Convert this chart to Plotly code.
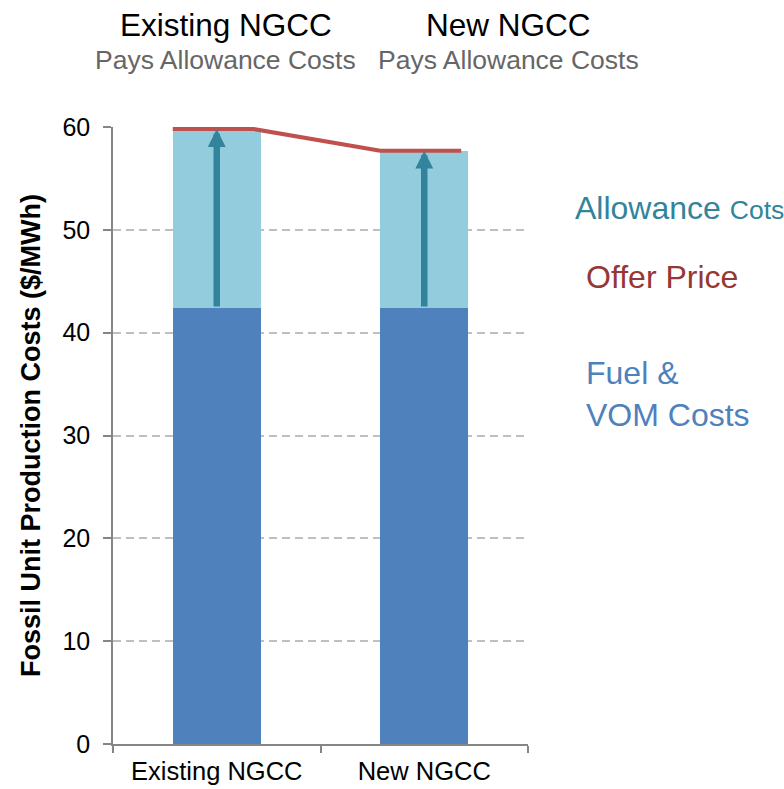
import plotly.graph_objects as go

# Data
categories = ["Existing NGCC", "New NGCC"]
fuel_vom_costs = [42.4, 42.4]
allowance_costs = [17.4, 15.3]
offer_price = [59.8, 57.7]
y_ticks = [0, 10, 20, 30, 40, 50, 60]

# Styling
FUEL_COLOR = "#4F81BD"
ALLOW_COLOR = "#93CDDD"
ARROW_COLOR = "#31849B"
OFFER_COLOR = "#C0504D"
OFFER_TEXT = "#953735"
AXIS_COLOR = "#868686"
FONT = "Liberation Sans, Arial, sans-serif"

BAR_GAP = 0.576
half_w = (1 - BAR_GAP) / 2

fig = go.Figure()

fig.add_trace(go.Bar(
    x=categories, y=fuel_vom_costs, name="Fuel & VOM Costs",
    marker=dict(color=FUEL_COLOR, line=dict(width=0)),
))
fig.add_trace(go.Bar(
    x=categories, y=allowance_costs, name="Allowance Costs",
    marker=dict(color=ALLOW_COLOR, line=dict(width=0)),
))

# Offer price step line across each bar, on a numeric overlay axis
line_x, line_y = [], []
for i, price in enumerate(offer_price):
    line_x += [i - half_w, i + half_w * 0.84]
    line_y += [price, price]
fig.add_trace(go.Scatter(
    x=line_x, y=line_y, xaxis="x2", mode="lines",
    line=dict(color=OFFER_COLOR, width=4), name="Offer Price",
    cliponaxis=False,
))

annotations = []

# Arrows from fuel cost up to offer price
for i, (fuel, price) in enumerate(zip(fuel_vom_costs, offer_price)):
    annotations.append(dict(
        xref="x2", yref="y", axref="x2", ayref="y",
        x=i, y=price, ax=i, ay=fuel, text="",
        showarrow=True, arrowhead=2, arrowwidth=6.5, arrowsize=0.55,
        arrowcolor=ARROW_COLOR, standoff=0, startstandoff=0,
    ))

# Column headers
headers = [(0.272, "Existing NGCC"), (0.952, "New NGCC")]
for xp, name in headers:
    annotations.append(dict(
        xref="paper", yref="paper", x=xp, y=1.165, text=name,
        showarrow=False, xanchor="center", yanchor="middle",
        font=dict(family=FONT, size=31.5, color="#000000"),
    ))
    annotations.append(dict(
        xref="paper", yref="paper", x=xp, y=1.109, text="Pays Allowance Costs",
        showarrow=False, xanchor="center", yanchor="middle",
        font=dict(family=FONT, size=26.5, color="#666666"),
    ))

# Side labels
annotations.append(dict(
    xref="paper", yref="paper", x=1.108, y=0.869, xanchor="left", yanchor="middle",
    text="Allowance <span style='font-size:26.5px'>Cots</span>", showarrow=False,
    font=dict(family=FONT, size=32, color=ARROW_COLOR),
))
annotations.append(dict(
    xref="paper", yref="paper", x=1.136, y=0.757, xanchor="left", yanchor="middle",
    text="Offer Price", showarrow=False,
    font=dict(family=FONT, size=32, color=OFFER_TEXT),
))
annotations.append(dict(
    xref="paper", yref="paper", x=1.136, y=0.567, xanchor="left", yanchor="middle",
    text="Fuel &<br>VOM Costs", showarrow=False, align="left",
    font=dict(family=FONT, size=32, color=FUEL_COLOR),
))

fig.update_layout(
    width=784, height=789,
    margin=dict(l=113, r=256, t=127, b=45),
    barmode="stack", bargap=BAR_GAP,
    plot_bgcolor="white", paper_bgcolor="white",
    showlegend=False,
    font=dict(family=FONT, color="#000000"),
    xaxis=dict(
        type="category", range=[-0.5, 1.5],
        showline=True, linecolor=AXIS_COLOR, linewidth=1.5,
        ticks="outside", tickson="boundaries", ticklen=7, tickcolor=AXIS_COLOR, tickwidth=1.5,
        tickfont=dict(family=FONT, size=25.5, color="#000000"),
        ticklabelstandoff=4,
        showgrid=False, zeroline=False, automargin=False,
    ),
    xaxis2=dict(
        overlaying="x", range=[-0.5, 1.5], visible=False,
    ),
    yaxis=dict(
        range=[0, 60], tickvals=y_ticks,
        showline=True, linecolor=AXIS_COLOR, linewidth=1.5,
        ticks="outside", ticklen=8, tickcolor=AXIS_COLOR, tickwidth=1.5,
        tickfont=dict(family=FONT, size=25, color="#000000"),
        ticklabelstandoff=8,
        showgrid=True, gridcolor="#BFBFBF", gridwidth=1.5, griddash="8px,5px",
        zeroline=False, automargin=False,
        title=dict(
            text="<b>Fossil Unit Production Costs ($/MWh)</b>",
            font=dict(family=FONT, size=27, color="#000000"),
            standoff=14,
        ),
    ),
    annotations=annotations,
)

fig.write_html("out.html")
